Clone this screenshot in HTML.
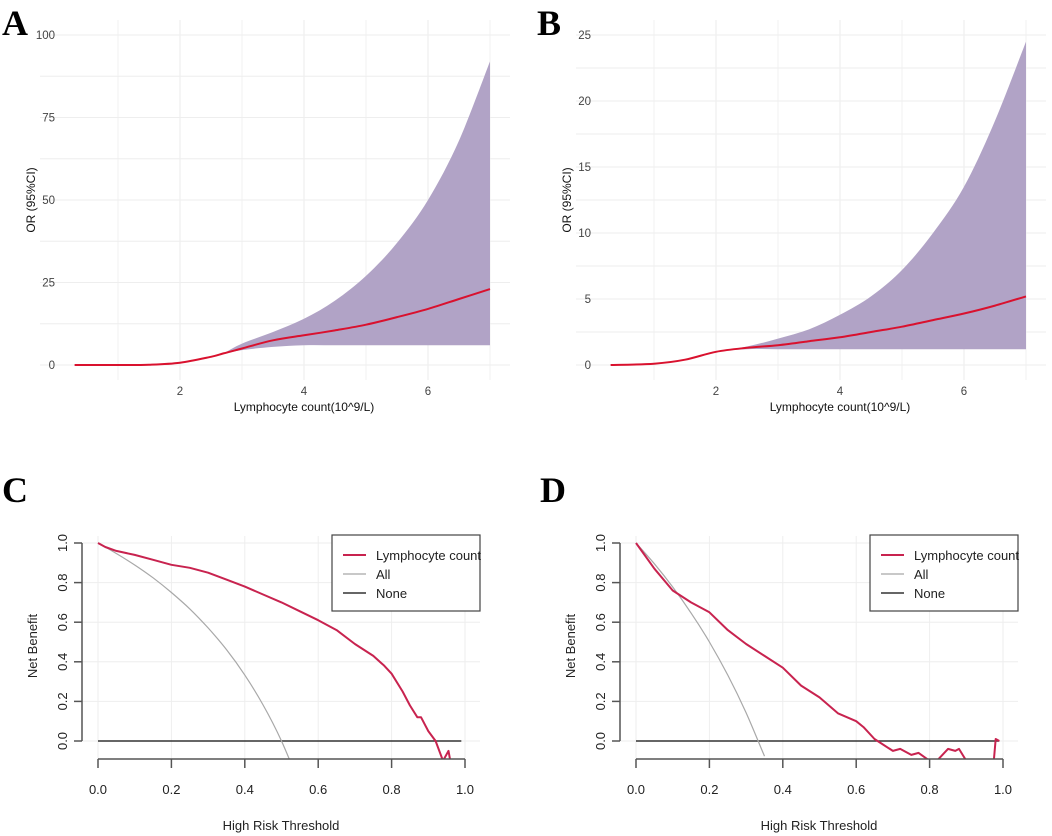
<!DOCTYPE html>
<html><head><meta charset="utf-8"><style>
body{margin:0;background:#fff;}
svg{display:block;font-family:"Liberation Sans",sans-serif;}
</style></head><body>
<svg id="root" width="1052" height="836" viewBox="0 0 1052 836">
<text x="2" y="35" font-family="Liberation Serif" font-weight="bold" font-size="36">A</text>
<text x="537" y="35" font-family="Liberation Serif" font-weight="bold" font-size="36">B</text>
<text x="2" y="502" font-family="Liberation Serif" font-weight="bold" font-size="36">C</text>
<text x="540" y="502" font-family="Liberation Serif" font-weight="bold" font-size="36">D</text>
</svg>
<script>
// Panel A data
const aX=[0.3,1,1.5,2,2.5,2.7,3,3.5,4,4.5,5,5.5,6,6.5,7];
const aMean=[0,0,0.1,0.7,2.5,3.5,5,7.5,9,10.5,12.2,14.5,17,20,23];
const aUpper=[0,0,0.1,0.7,2.5,3.6,6.5,10,14,19.5,27,37,50,68,92];
const aLower=[0,0,0.1,0.7,2.5,3.4,4.5,5.5,6,6,6,6,6,6,6];
const aYTicks=[0,25,50,75,100];
// Panel B data
const bX=[0.3,1,1.5,2,2.5,3,3.5,4,4.5,5,5.5,6,6.5,7];
const bMean=[0,0.1,0.4,1.0,1.3,1.5,1.8,2.1,2.5,2.9,3.4,3.9,4.5,5.2];
const bUpper=[0,0.1,0.4,1.0,1.4,2.0,2.7,3.8,5.2,7.2,10,13.5,18.5,24.5];
const bLower=[0,0.1,0.4,1.0,1.2,1.2,1.2,1.2,1.2,1.2,1.2,1.2,1.2,1.2];
const bYTicks=[0,5,10,15,20,25];
const orXTicks=[2,4,6];
// Panel C data
const cT=[0,0.02,0.05,0.1,0.15,0.2,0.25,0.3,0.35,0.4,0.45,0.5,0.55,0.6,0.65,0.7,0.75,0.78,0.8,0.83,0.85,0.87,0.88,0.9,0.92,0.94,0.955,0.96];
const cModel=[1,0.98,0.96,0.94,0.915,0.89,0.875,0.85,0.815,0.78,0.74,0.70,0.655,0.61,0.56,0.49,0.43,0.38,0.34,0.25,0.18,0.12,0.12,0.05,0,-0.1,-0.05,-0.1];
const cAllT=[0,0.05,0.1,0.15,0.2,0.25,0.3,0.35,0.4,0.45,0.5,0.55];
const cAll=[1,0.947,0.889,0.824,0.75,0.667,0.571,0.462,0.333,0.182,0,-0.222];
// Panel D data
const dT=[0,0.05,0.1,0.15,0.2,0.25,0.3,0.35,0.4,0.45,0.5,0.55,0.6,0.62,0.65,0.7,0.72,0.75,0.77,0.8,0.82,0.85,0.87,0.88,0.9,0.975,0.98,0.99];
const dModel=[1,0.87,0.76,0.70,0.65,0.56,0.49,0.43,0.37,0.28,0.22,0.14,0.10,0.07,0.01,-0.05,-0.04,-0.07,-0.06,-0.1,-0.1,-0.04,-0.05,-0.04,-0.1,-0.1,0.01,0];
const dAllT=[0,0.05,0.1,0.15,0.2,0.25,0.3,0.35];
const dAll=[1,0.895,0.778,0.647,0.5,0.333,0.143,-0.077];
const dcaTicks=[0,0.2,0.4,0.6,0.8,1.0];

const NS="http://www.w3.org/2000/svg";
const root=document.getElementById('root');
function mk(tag,attrs,parent){const e=document.createElementNS(NS,tag);for(const k in attrs)e.setAttribute(k,attrs[k]);(parent||root).appendChild(e);return e;}
function pathOf(xs,ys,sx,sy){return xs.map((x,i)=>(i?'L':'M')+sx(x).toFixed(1)+','+sy(ys[i]).toFixed(1)).join(' ');}
function smoothOf(xs,ys,sx,sy,lead){
  const p=xs.map((x,i)=>[sx(x),sy(ys[i])]);
  let d=(lead||'M')+p[0][0].toFixed(1)+','+p[0][1].toFixed(1);
  for(let i=0;i<p.length-1;i++){
    const p0=p[i-1]||p[i],p1=p[i],p2=p[i+1],p3=p[i+2]||p[i+1];
    const c1=[p1[0]+(p2[0]-p0[0])/6,p1[1]+(p2[1]-p0[1])/6];
    const c2=[p2[0]-(p3[0]-p1[0])/6,p2[1]-(p3[1]-p1[1])/6];
    d+=` C${c1[0].toFixed(1)},${c1[1].toFixed(1)} ${c2[0].toFixed(1)},${c2[1].toFixed(1)} ${p2[0].toFixed(1)},${p2[1].toFixed(1)}`;
  }
  return d;
}

function orPanel(ox,ymax,X,M,U,L,yt,tag){
  const sx=v=>ox+56+62*v, sy=v=>365-330*v/ymax;
  const g=mk('g',{});
  
  
  for(let v=1;v<=7;v++){const l=mk('line',{x1:sx(v),x2:sx(v),y1:20,y2:380,stroke:v%2?'#f2f2f2':'#ebebeb','stroke-width':1},g);
    }
  const step=yt[1]-yt[0];
  for(let v=0;v<=ymax+0.01;v+=step/2){const l=mk('line',{x1:ox+40,x2:ox+510,y1:sy(v),y2:sy(v),stroke:'#eeeeee','stroke-width':1},g);
    }
  const band=mk('path',{d:smoothOf(X,U,sx,sy)+' '+smoothOf(X.slice().reverse(),L.slice().reverse(),sx,sy,'L')+' Z',fill:'#b1a3c6',stroke:'none'},g);
  
  const ln=mk('path',{d:smoothOf(X,M,sx,sy),fill:'none',stroke:'#d9112e','stroke-width':2},g);
  
  yt.forEach(v=>{const t=mk('text',{x:ox+55,y:sy(v)+4,'text-anchor':'end','font-size':11.5,fill:'#444'},g);t.textContent=v;
    });
  orXTicks.forEach(v=>{const t=mk('text',{x:sx(v),y:395,'text-anchor':'middle','font-size':11.5,fill:'#444'},g);t.textContent=v;
    });
  const xt=mk('text',{x:ox+304,y:411,'text-anchor':'middle','font-size':12,fill:'#111'},g);xt.textContent='Lymphocyte count(10^9/L)';
  
  const yl=mk('text',{x:0,y:0,'text-anchor':'middle','font-size':12,fill:'#111',transform:`translate(${ox+35},200) rotate(-90)`},g);yl.textContent='OR (95%CI)';
  
}
orPanel(0,100,aX,aMean,aUpper,aLower,aYTicks,'a');
orPanel(536,25,bX,bMean,bUpper,bLower,bYTicks,'b');

function dcaPanel(ox,T,Mv,AT,Av,tag){
  const sx=v=>ox+98+367*v, sy=v=>741-198*v;
  const g=mk('g',{});
  
  
  const cid='clip'+tag;
  const cp=mk('clipPath',{id:cid},g);mk('rect',{x:ox+80,y:530,width:420,height:229},cp);
  dcaTicks.forEach(v=>{
    const l1=mk('line',{x1:sx(v),x2:sx(v),y1:536,y2:759,stroke:'#eeeeee'},g);
    const l2=mk('line',{x1:ox+82,x2:ox+480,y1:sy(v),y2:sy(v),stroke:'#eeeeee'},g);
  });
  const none=mk('line',{x1:sx(0),x2:sx(0.99),y1:sy(0),y2:sy(0),stroke:'#333','stroke-width':1.5},g);
  
  const all=mk('path',{d:smoothOf(AT,Av,sx,sy),fill:'none',stroke:'#a8a8a8','stroke-width':1.2,'clip-path':`url(#${cid})`},g);
  
  const m=mk('path',{d:pathOf(T,Mv,sx,sy),fill:'none',stroke:'#c8234f','stroke-width':2,'stroke-linejoin':'round','clip-path':`url(#${cid})`},g);
  
  const xa=mk('line',{x1:sx(0),x2:sx(1),y1:759,y2:759,stroke:'#555','stroke-width':1.5},g);
  const ya=mk('line',{x1:ox+82,x2:ox+82,y1:sy(0),y2:sy(1),stroke:'#555','stroke-width':1.5},g);
  dcaTicks.forEach(v=>{
    mk('line',{x1:sx(v),x2:sx(v),y1:759,y2:768,stroke:'#555','stroke-width':1.5},g);
    mk('line',{x1:ox+74,x2:ox+82,y1:sy(v),y2:sy(v),stroke:'#555','stroke-width':1.5},g);
    const t=mk('text',{x:sx(v),y:794,'text-anchor':'middle','font-size':13,fill:'#222'},g);t.textContent=v.toFixed(1);
    
    const t2=mk('text',{x:0,y:0,'text-anchor':'middle','font-size':13,fill:'#222',transform:`translate(${ox+67},${sy(v)}) rotate(-90)`},g);t2.textContent=v.toFixed(1);
    
  });
  const xt=mk('text',{x:ox+281,y:830,'text-anchor':'middle','font-size':13,fill:'#222'},g);xt.textContent='High Risk Threshold';
  
  const yt=mk('text',{x:0,y:0,'text-anchor':'middle','font-size':13,fill:'#222',transform:`translate(${ox+37},646) rotate(-90)`},g);yt.textContent='Net Benefit';
  
  const lg=mk('g',{},g);
  const lx=ox+332;
  mk('rect',{x:lx,y:535,width:148,height:76,fill:'#fff',stroke:'#444','stroke-width':1.2},lg);
  [['Lymphocyte count','#c8234f',2],['All','#a8a8a8',1.2],['None','#333',1.5]].forEach((e,i)=>{
    const y=555+19*i;
    const l=mk('line',{x1:lx+11,x2:lx+34,y1:y,y2:y,stroke:e[1],'stroke-width':e[2]},lg);
    
    const t=mk('text',{x:lx+44,y:y+5,'font-size':13,fill:'#222'},lg);t.textContent=e[0];
    
  });
}
dcaPanel(0,cT,cModel,cAllT,cAll,'c');
dcaPanel(538,dT,dModel,dAllT,dAll,'d');
</script>
</body></html>
